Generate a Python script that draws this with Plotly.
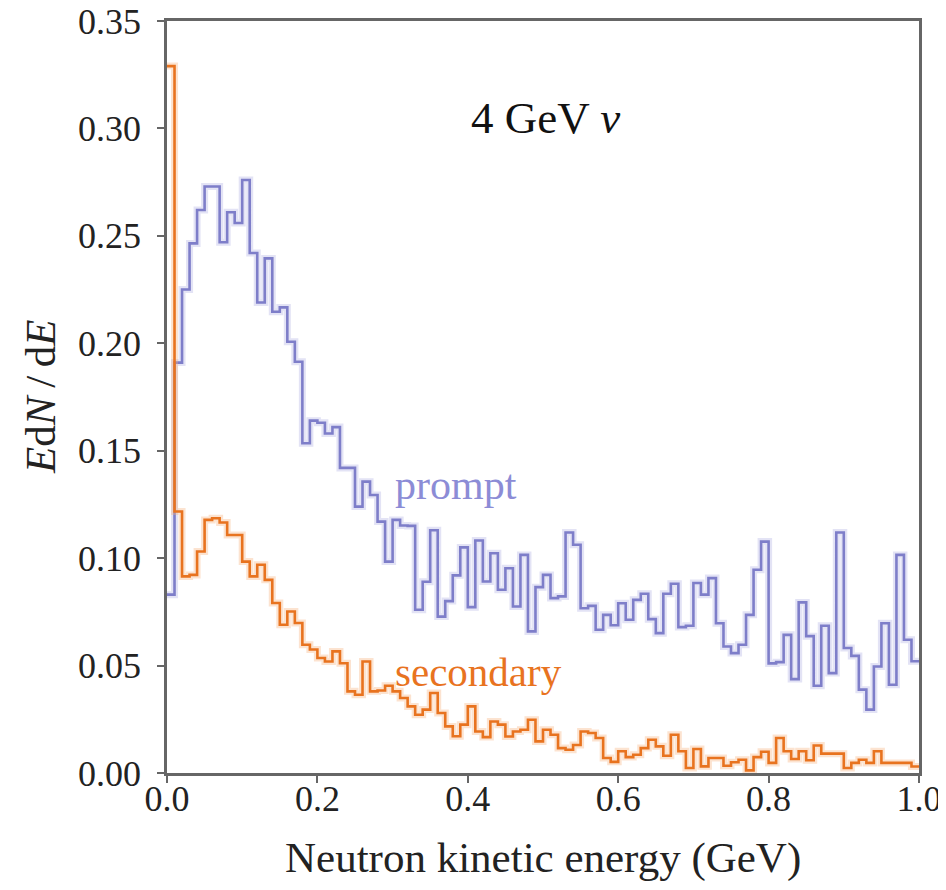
import plotly.graph_objects as go

# bin edges: 100 bins of 0.01 GeV
n_bins = 100
bin_width = 0.01
edges = [round(i * bin_width, 4) for i in range(n_bins + 1)]

prompt = [
    0.083, 0.191, 0.225, 0.2465, 0.262, 0.273, 0.273, 0.247, 0.261, 0.256,
    0.276, 0.242, 0.219, 0.2395, 0.2147, 0.2167, 0.2007, 0.1914, 0.1535, 0.164,
    0.163, 0.158, 0.161, 0.142, 0.142, 0.124, 0.1356, 0.1294, 0.117, 0.0984,
    0.1178, 0.1152, 0.115, 0.076, 0.089, 0.113, 0.0728, 0.080, 0.092, 0.105,
    0.0772, 0.1082, 0.0891, 0.1023, 0.0853, 0.0953, 0.0775, 0.1015, 0.0659, 0.0865,
    0.0922, 0.0814, 0.0822, 0.1119, 0.1062, 0.0767, 0.0778, 0.0667, 0.0736, 0.0688,
    0.079, 0.0713, 0.0806, 0.0834, 0.0716, 0.0651, 0.0834, 0.0881, 0.0679, 0.0685,
    0.0884, 0.0830, 0.0907, 0.0697, 0.0589, 0.0558, 0.0597, 0.0736, 0.0946, 0.1077,
    0.051, 0.0516, 0.0643, 0.0437, 0.0794, 0.0637, 0.0406, 0.0685, 0.0465, 0.1119,
    0.0582, 0.0545, 0.0388, 0.0295, 0.0496, 0.0697, 0.0411, 0.1015, 0.062, 0.052,
]

secondary = [
    0.329, 0.1217, 0.0915, 0.0922, 0.1031, 0.1178, 0.1186, 0.1166, 0.1108, 0.1108,
    0.0984, 0.0915, 0.0969, 0.0899, 0.0791, 0.0690, 0.0752, 0.0698, 0.0597, 0.0575,
    0.0535, 0.0519, 0.0566, 0.0511, 0.0380, 0.0364, 0.0519, 0.0380, 0.0384, 0.0406,
    0.0380, 0.0349, 0.0310, 0.0271, 0.0295, 0.0372, 0.0279, 0.0217, 0.0171, 0.0225,
    0.0310, 0.0193, 0.0167, 0.0240, 0.0225, 0.0170, 0.0193, 0.0201, 0.0248, 0.0147,
    0.0201, 0.0178, 0.0116, 0.0108, 0.0130, 0.0193, 0.0186, 0.0163, 0.0070, 0.0052,
    0.0101, 0.0074, 0.0085, 0.0116, 0.0155, 0.0124, 0.0080, 0.0178, 0.0101, 0.0023,
    0.0112, 0.0031, 0.0070, 0.0070, 0.0034, 0.0050, 0.0062, 0.0012, 0.0074, 0.0099,
    0.0047, 0.0163, 0.0101, 0.0065, 0.0101, 0.0059, 0.0128, 0.0090, 0.0090, 0.0090,
    0.0023, 0.0047, 0.0062, 0.0047, 0.0101, 0.0047, 0.0047, 0.0047, 0.0047, 0.0030,
]

x_ticks = [0.0, 0.2, 0.4, 0.6, 0.8, 1.0]
x_tick_text = ["0.0", "0.2", "0.4", "0.6", "0.8", "1.0"]
y_ticks = [0.0, 0.05, 0.10, 0.15, 0.20, 0.25, 0.30, 0.35]
y_tick_text = ["0.00", "0.05", "0.10", "0.15", "0.20", "0.25", "0.30", "0.35"]

PROMPT_COLOR = "#7e7ec9"
PROMPT_HALO = "rgba(175,175,225,0.35)"
SEC_COLOR = "#e8731f"
SEC_HALO = "rgba(245,175,120,0.35)"
FONT = "Liberation Serif"
TICK_SIZE = 36

fig = go.Figure()

def add_step(vals, color, halo):
    yv = list(vals) + [vals[-1]]
    fig.add_trace(go.Scatter(x=edges, y=yv, mode="lines", line_shape="hv",
                             line=dict(color=halo, width=7), hoverinfo="skip",
                             showlegend=False))
    fig.add_trace(go.Scatter(x=edges, y=yv, mode="lines", line_shape="hv",
                             line=dict(color=color, width=2.6), showlegend=False))

add_step(prompt, PROMPT_COLOR, PROMPT_HALO)
add_step(secondary, SEC_COLOR, SEC_HALO)

axis_common = dict(showgrid=False, zeroline=False, showline=True, mirror=True,
                   linecolor="#666666", linewidth=2.5, ticks="outside",
                   ticklen=7, tickwidth=2, tickcolor="#666666", automargin=False,
                   ticklabeloverflow="allow",
                   tickfont=dict(family=FONT, size=TICK_SIZE, color="#222222"))

fig.update_layout(
    width=946, height=890,
    margin=dict(l=159, r=35, t=13, b=125, autoexpand=False),
    paper_bgcolor="white", plot_bgcolor="white",
    font=dict(family=FONT, size=TICK_SIZE, color="#222222"),
    showlegend=False,
    xaxis=dict(range=[0, 1], tickvals=x_ticks, ticktext=x_tick_text,
               ticklabelstandoff=-15, **axis_common),
    yaxis=dict(range=[0, 0.35], tickvals=y_ticks, ticktext=y_tick_text,
               ticklabelstandoff=9, **axis_common),
)

fig.add_annotation(x=0.5, y=-0.113, xref="paper", yref="paper",
                   xanchor="center", yanchor="middle",
                   text="Neutron kinetic energy (GeV)", showarrow=False,
                   font=dict(family=FONT, size=43, color="#222222"))
fig.add_annotation(x=-0.169, y=0.5, xref="paper", yref="paper",
                   xanchor="center", yanchor="middle",
                   text="<i>E</i>d<i>N</i>\u2009/\u2009d<i>E</i>", textangle=-90,
                   showarrow=False,
                   font=dict(family=FONT, size=43, color="#222222"))
fig.add_annotation(x=0.503, y=0.305, xref="x", yref="y",
                   text="4 GeV <i>ν</i>", showarrow=False,
                   font=dict(family=FONT, size=45, color="#111111"))
fig.add_annotation(x=0.30, y=0.134, xref="x", yref="y", xanchor="left",
                   text="prompt", showarrow=False,
                   font=dict(family=FONT, size=42, color="#8c8cd6"))
fig.add_annotation(x=0.30, y=0.047, xref="x", yref="y", xanchor="left",
                   text="secondary", showarrow=False,
                   font=dict(family=FONT, size=41, color=SEC_COLOR))

fig.write_html("out.html")
